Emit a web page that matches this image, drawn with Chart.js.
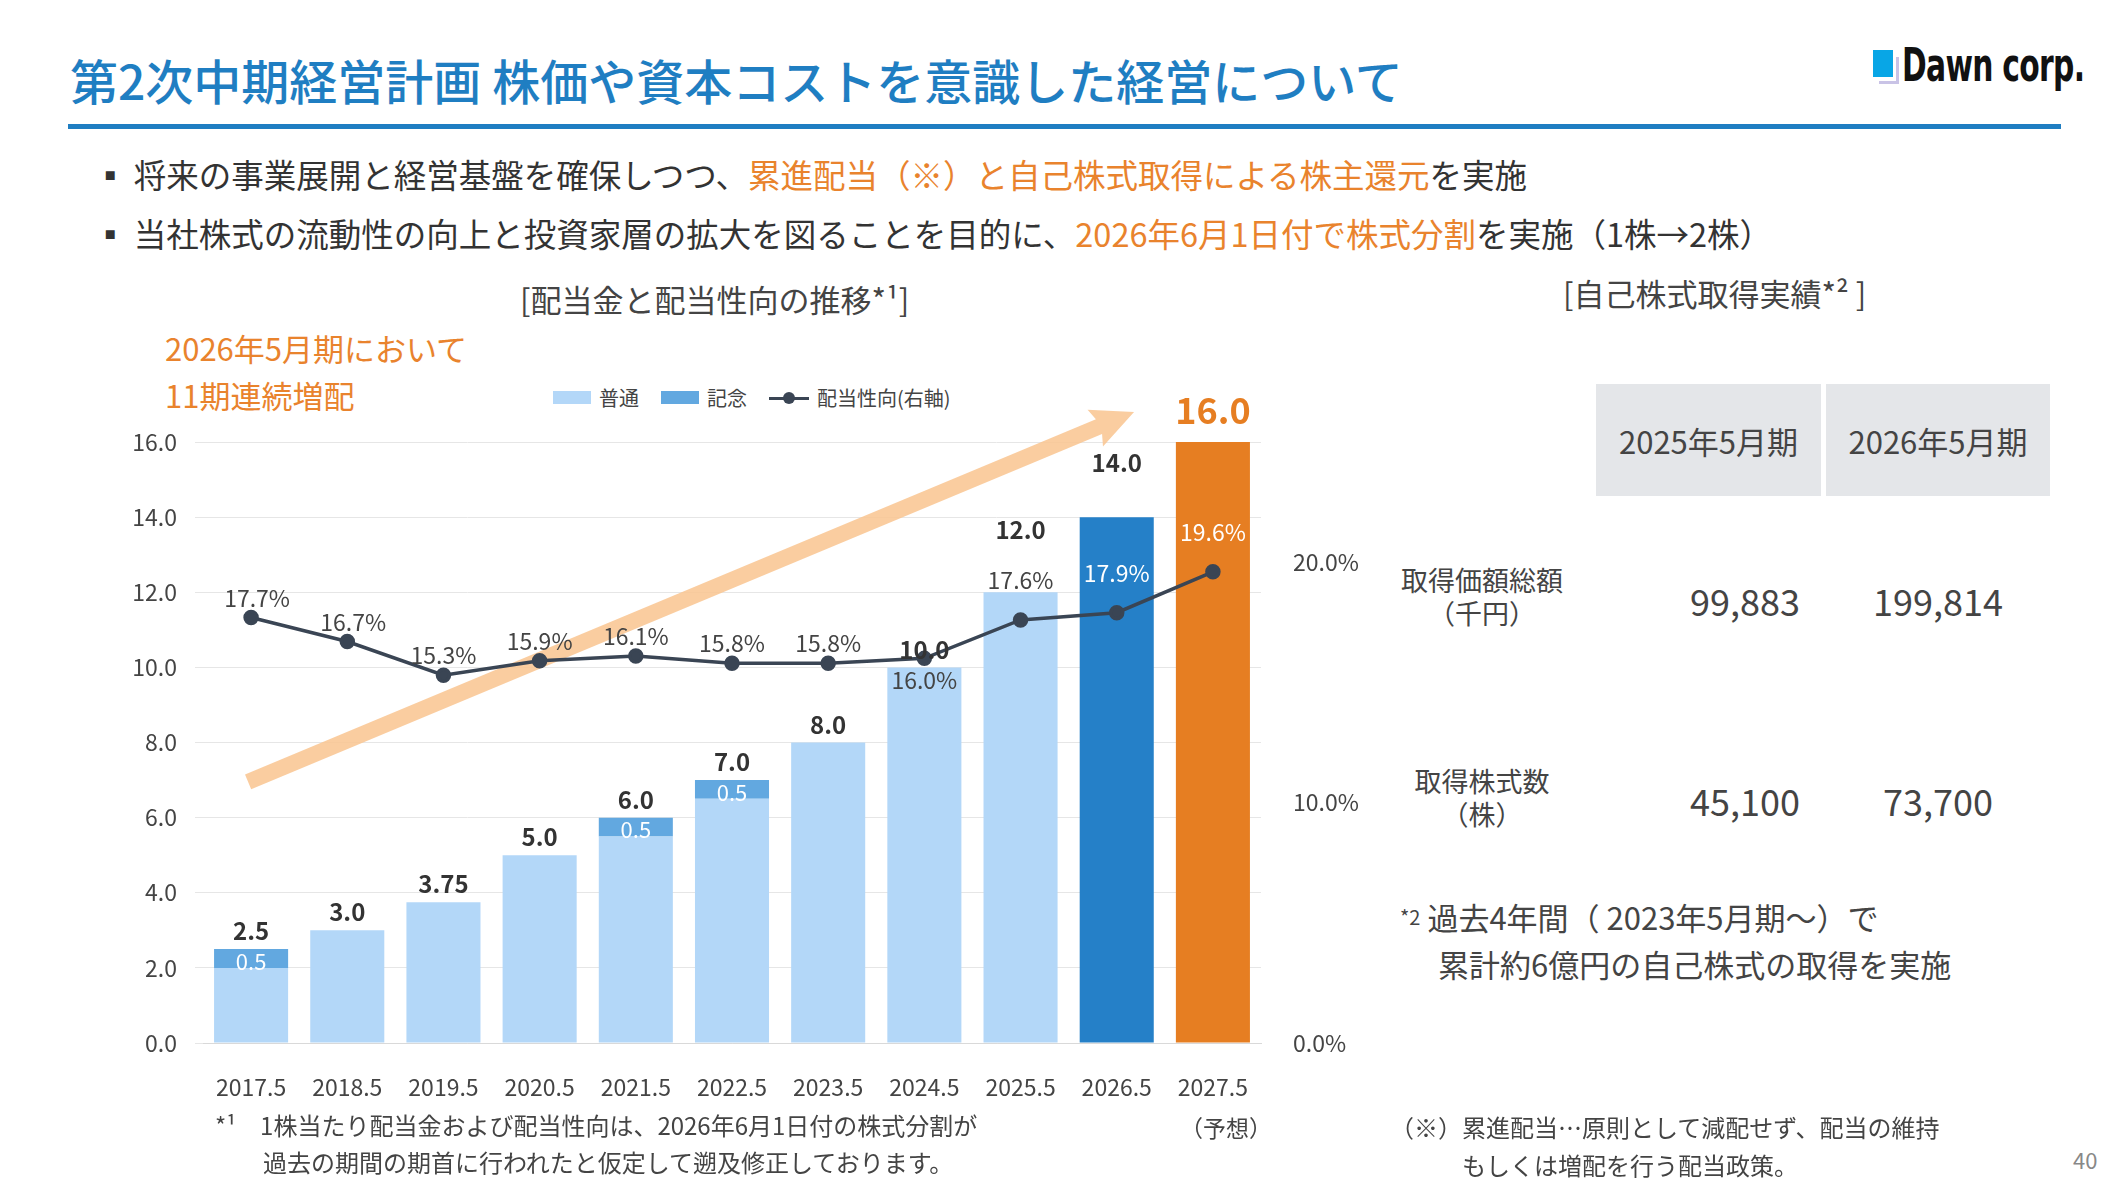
<!DOCTYPE html>
<html><head><meta charset="utf-8">
<script src="https://cdn.jsdelivr.net/npm/chart.js@4"></script>
<style>
body{margin:0;width:2116px;height:1190px;background:#fff;font-family:"Noto Sans CJK JP","Noto Sans",sans-serif;color:#333;position:relative;overflow:hidden}
.a{position:absolute;white-space:nowrap}
.or{color:#e9832d}
</style></head><body>
<div class="a" style="left:70px;top:44px;font-size:48px;color:#1f7ec2;font-weight:500">第2次中期経営計画 株価や資本コストを意識した経営について</div>
<div class="a" style="left:68px;top:124px;width:1993px;height:5px;background:#1f7ec2"></div>
<div class="a" style="left:1873px;top:50px;width:20px;height:27px;background:#08a6e6"></div>
<div class="a" style="left:1879px;top:57px;width:17px;height:24px;border-right:3px solid #c9c3e6;border-bottom:3px solid #c9c3e6"></div>
<div class="a" style="left:1902px;top:38px;font-size:46px;font-weight:900;font-family:'Liberation Sans Narrow','DejaVu Sans Condensed',sans-serif;color:#111;transform:scaleX(0.72);transform-origin:left;letter-spacing:-1px">Dawn corp.</div>
<div class="a" style="left:94px;top:150px;font-size:32.5px">▪ 将来の事業展開と経営基盤を確保しつつ、<span class="or">累進配当（※）と自己株式取得による株主還元</span>を実施</div>
<div class="a" style="left:94px;top:209px;font-size:32.5px">▪ 当社株式の流動性の向上と投資家層の拡大を図ることを目的に、<span class="or">2026年6月1日付で株式分割</span>を実施（1株→2株）</div>
<div class="a" style="left:520px;top:276px;font-size:31px;color:#444">[配当金と配当性向の推移*¹]</div>
<div class="a or" style="left:165px;top:324px;font-size:31px;line-height:47px">2026年5月期において<br>11期連続増配</div>
<div class="a" style="left:553px;top:383px;font-size:20px;color:#444;display:flex;align-items:center;gap:8px">
<span style="width:38px;height:13px;background:#b3d7f8;display:inline-block"></span>普通
<span style="width:38px;height:13px;background:#62a8e0;display:inline-block;margin-left:14px"></span>記念
<span style="margin-left:14px;display:inline-block;position:relative;width:40px;height:14px"><span style="position:absolute;left:0;top:6px;width:40px;height:3px;background:#3a4554"></span><span style="position:absolute;left:14px;top:1px;width:12px;height:12px;border-radius:50%;background:#3a4554"></span></span>配当性向(右軸)
</div>
<div class="a" style="left:100px;top:396px;width:1300px;height:720px"><canvas id="c"></canvas></div>
<div class="a" style="left:1180px;top:1110px;font-size:23px;color:#444">（予想）</div>
<div class="a" style="left:215px;top:1106px;font-size:24px;color:#444;line-height:37px">*¹　1株当たり配当金および配当性向は、2026年6月1日付の株式分割が<br>　　過去の期間の期首に行われたと仮定して遡及修正しております。</div>
<div class="a" style="left:1563px;top:270px;font-size:31px;color:#444">[自己株式取得実績*² ]</div>
<div class="a" style="left:1596px;top:384px;width:225px;height:112px;background:#e4e6e9;font-size:31px;color:#444;display:flex;align-items:center;justify-content:center">2025年5月期</div>
<div class="a" style="left:1826px;top:384px;width:224px;height:112px;background:#e4e6e9;font-size:31px;color:#444;display:flex;align-items:center;justify-content:center">2026年5月期</div>
<div class="a" style="left:1482px;top:563px;font-size:27px;color:#444;text-align:center;line-height:33px;transform:translateX(-50%)">取得価額総額<br>（千円）</div>
<div class="a" style="left:1745px;top:574px;font-size:36px;color:#444;transform:translateX(-50%)">99,883</div>
<div class="a" style="left:1938px;top:574px;font-size:36px;color:#444;transform:translateX(-50%)">199,814</div>
<div class="a" style="left:1482px;top:764px;font-size:27px;color:#444;text-align:center;line-height:33px;transform:translateX(-50%)">取得株式数<br>（株）</div>
<div class="a" style="left:1745px;top:774px;font-size:36px;color:#444;transform:translateX(-50%)">45,100</div>
<div class="a" style="left:1938px;top:774px;font-size:36px;color:#444;transform:translateX(-50%)">73,700</div>
<div class="a" style="left:1400px;top:893px;font-size:31px;color:#444;line-height:47px"><span style="font-size:20px;vertical-align:top">*2</span> 過去4年間（ 2023年5月期～）で<br>　 累計約6億円の自己株式の取得を実施</div>
<div class="a" style="left:1390px;top:1108px;font-size:24px;color:#444;line-height:38px">（※）累進配当…原則として減配せず、配当の維持<br>　　　もしくは増配を行う配当政策。</div>
<div class="a" style="left:2073px;top:1143px;font-size:22px;color:#888">40</div>
<script>
const categories=['2017.5','2018.5','2019.5','2020.5','2021.5','2022.5','2023.5','2024.5','2025.5','2026.5','2027.5'];
const ordinary=[2.0,3.0,3.75,5.0,5.5,6.5,8.0,10.0,12.0,14.0,16.0];
const commemorative=[0.5,0,0,0,0.5,0.5,0,0,0,0,0];
const totals=['2.5','3.0','3.75','5.0','6.0','7.0','8.0','10.0','12.0','14.0','16.0'];
const payout=[17.7,16.7,15.3,15.9,16.1,15.8,15.8,16.0,17.6,17.9,19.6];
const barColors=categories.map((c,i)=>i===9?'#2580c8':i===10?'#e67e22':'#b3d7f8');
const F='"Noto Sans CJK JP","Noto Sans",sans-serif';

const deco={
  id:'deco',
  beforeDatasetsDraw(chart){
    const {ctx,scales:{x,y}}=chart;
    const x0=x.getPixelForValue(0)-3,y0=y.getPixelForValue(6.95);
    const x1=x.getPixelForValue(9.18),y1=y.getPixelForValue(16.8);
    const a=Math.atan2(y1-y0,x1-x0);
    ctx.save();ctx.translate(x0,y0);ctx.rotate(a);
    const L=Math.hypot(x1-x0,y1-y0);
    ctx.fillStyle='rgba(249,196,143,0.85)';
    ctx.beginPath();ctx.moveTo(0,-8);ctx.lineTo(L-38,-8);ctx.lineTo(L-42,-20);ctx.lineTo(L,0);ctx.lineTo(L-42,20);ctx.lineTo(L-38,8);ctx.lineTo(0,8);ctx.closePath();ctx.fill();
    ctx.restore();
  },
  afterDatasetsDraw(chart){
    const {ctx,scales:{x,y,y1}}=chart;
    ctx.save();ctx.textAlign='center';ctx.textBaseline='bottom';
    categories.forEach((c,i)=>{
      const px=x.getPixelForValue(i);
      const tot=ordinary[i]+commemorative[i];
      if(i===10){ctx.font='bold 36px '+F;ctx.fillStyle='#e67e22';}
      else{ctx.font='bold 24px '+F;ctx.fillStyle='#333';}
      const lift=i===10?14:i===8?50:i===9?42:6;
      ctx.fillText(totals[i],px,y.getPixelForValue(tot)-lift);
      if(commemorative[i]>0){
        ctx.font='22px '+F;ctx.fillStyle='#fff';ctx.textBaseline='middle';
        ctx.fillText('0.5',px,y.getPixelForValue(ordinary[i]+0.25)+3);ctx.textBaseline='bottom';
      }
      const py=y1.getPixelForValue(payout[i]);
      ctx.font='23px '+F;
      ctx.fillStyle=i>=9?'#fff':'#444';
      let ly=py-8;
      if(i===7){ctx.textBaseline='top';ly=py+10;}
      if(i>=8)ly=py-28;
      ctx.fillText(payout[i].toFixed(1)+'%',px+(i<2?6:0),ly);
      ctx.textBaseline='bottom';
    });
    ctx.restore();
  }
};

new Chart(document.getElementById('c'),{
  data:{labels:categories,datasets:[
    {type:'line',label:'配当性向(右軸)',data:payout,yAxisID:'y1',borderColor:'#3a4554',backgroundColor:'#3a4554',borderWidth:3.5,pointRadius:6,tension:0,order:0},
    {type:'bar',label:'普通',data:ordinary,backgroundColor:barColors,stack:'s',order:1},
    {type:'bar',label:'記念',data:commemorative,backgroundColor:'#62a8e0',stack:'s',order:1}
  ]},
  options:{
    responsive:true,maintainAspectRatio:false,animation:false,
    layout:{padding:{top:46,left:0,right:0,bottom:0}},
    datasets:{bar:{categoryPercentage:0.77,barPercentage:1}},
    plugins:{legend:{display:false},tooltip:{enabled:false}},
    scales:{
      x:{stacked:true,grid:{display:false},border:{color:'#d9d9d9'},ticks:{color:'#444',font:{size:23,family:F},padding:22},afterFit(s){s.height=73;}},
      y:{stacked:true,min:0,max:16,ticks:{stepSize:2,color:'#444',font:{size:23,family:F},callback:v=>v.toFixed(1),padding:18},grid:{color:'#e6e6e6'},border:{display:false},afterFit(s){s.width=103;}},
      y1:{position:'right',min:0,max:25,afterBuildTicks(s){s.ticks=[{value:0},{value:10},{value:20}];},ticks:{color:'#444',font:{size:23,family:F},callback:v=>v.toFixed(1)+'%',padding:24},grid:{display:false},border:{display:false},afterFit(s){s.width=139;}}
    }
  },
  plugins:[deco]
});
</script>
</body></html>
